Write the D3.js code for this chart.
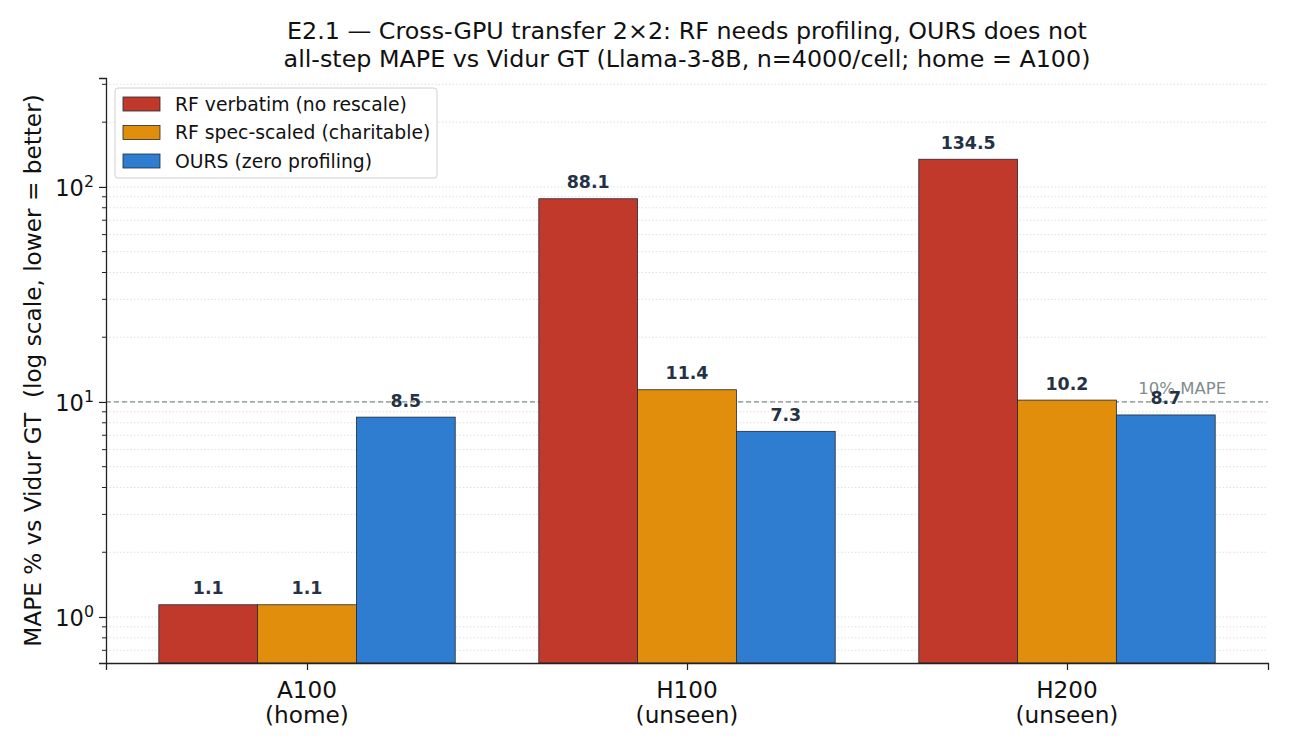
<!DOCTYPE html>
<html>
<head>
<meta charset="utf-8">
<script src="https://cdn.jsdelivr.net/npm/d3@7"></script>
<style>
  body { margin: 0; background: #fff; }
  svg { display: block; font-family: "DejaVu Sans", sans-serif; }
</style>
</head>
<body>
<div id="chart"></div>
<script>
// data
const gpus = ['A100', 'H100', 'H200'];
const gpuNotes = ['(home)', '(unseen)', '(unseen)'];
const seriesNames = ['RF verbatim (no rescale)', 'RF spec-scaled (charitable)', 'OURS (zero profiling)'];
const rfVerbatim = [1.14, 88.1, 134.5];
const rfScaled = [1.14, 11.4, 10.2];
const ours = [8.5, 7.3, 8.7];
const threshold = 10;

const colors = ['#c0392b', '#e08e0b', '#2e7dd1'];
const series = [rfVerbatim, rfScaled, ours];

const W = 1290, H = 750;
const margin = { top: 78, right: 22, bottom: 87, left: 106 };
const width = W - margin.left - margin.right;
const height = H - margin.top - margin.bottom;

const svg = d3.select('#chart').append('svg')
  .attr('width', W).attr('height', H);

const g = svg.append('g').attr('transform', `translate(${margin.left},${margin.top})`);

// scales (matplotlib-style: index positions, bar width 0.26)
const barW = 0.26;
const x = d3.scaleLinear().domain([-0.529, 2.529]).range([0, width]);
const y = d3.scaleLog().domain([0.611, 321]).range([height, 0]);

// grid: minor + major, dotted
const gridVals = [];
for (let e = -1; e <= 2; e++) {
  for (let m = 1; m <= 9; m++) {
    const v = m * Math.pow(10, e);
    if (v >= 0.611 && v <= 321) gridVals.push(v);
  }
}
g.append('g').selectAll('line').data(gridVals).enter().append('line')
  .attr('x1', 0).attr('x2', width)
  .attr('y1', d => y(d)).attr('y2', d => y(d))
  .attr('stroke', '#cfd3d7').attr('stroke-width', 0.7)
  .attr('stroke-dasharray', '1.5,2');

// threshold line
g.append('line')
  .attr('x1', 0).attr('x2', width)
  .attr('y1', y(threshold)).attr('y2', y(threshold))
  .attr('stroke', '#7f8c8d').attr('stroke-width', 1.2)
  .attr('stroke-dasharray', '5,3');

g.append('text')
  .attr('x', x(2.39) + 11).attr('y', y(threshold) - 8)
  .attr('text-anchor', 'end')
  .attr('font-size', 16.5).attr('fill', '#7f8c8d')
  .text('10% MAPE');

// bars
series.forEach((vals, j) => {
  const offset = (j - 1) * barW;
  g.append('g').selectAll('rect').data(vals).enter().append('rect')
    .attr('x', (d, i) => x(i + offset - barW / 2))
    .attr('width', x(barW) - x(0))
    .attr('y', d => y(d))
    .attr('height', d => height - y(d))
    .attr('fill', colors[j])
    .attr('stroke', '#1f2a36').attr('stroke-width', 0.8);

  g.append('g').selectAll('text').data(vals).enter().append('text')
    .attr('x', (d, i) => x(i + offset))
    .attr('y', d => y(d * 1.12))
    .attr('text-anchor', 'middle')
    .attr('font-size', 17.4).attr('font-weight', 'bold')
    .attr('fill', '#253244')
    .text(d => d.toFixed(1));
});

// axes
const yAxis = d3.axisLeft(y)
  .tickValues([1, 10, 100])
  .tickFormat('')
  .tickSizeOuter(0).tickSize(7);
const yG = g.append('g').call(yAxis);
yG.select('.domain').attr('stroke', '#222').attr('stroke-width', 1.3);
yG.selectAll('.tick line').attr('stroke', '#222').attr('stroke-width', 1.2);

// minor ticks
g.append('g').selectAll('line').data(gridVals.filter(v => ![1, 10, 100].includes(v))).enter().append('line')
  .attr('x1', -4).attr('x2', 0)
  .attr('y1', d => y(d)).attr('y2', d => y(d))
  .attr('stroke', '#222').attr('stroke-width', 1);

// major labels as 10^n
[0, 1, 2].forEach(e => {
  const t = g.append('text')
    .attr('x', -12).attr('y', y(Math.pow(10, e)) + 9)
    .attr('text-anchor', 'end')
    .attr('font-size', 22.5).attr('fill', '#111');
  t.append('tspan').text('10');
  t.append('tspan').attr('dy', -9).attr('font-size', 15.8).text(e);
});

const xAxis = d3.axisBottom(x).tickValues([0, 1, 2]).tickFormat('').tickSizeOuter(0).tickSize(7);
const xG = g.append('g').attr('transform', `translate(0,${height})`).call(xAxis);
xG.select('.domain').attr('stroke', '#222').attr('stroke-width', 1.3);
xG.selectAll('.tick line').attr('stroke', '#222').attr('stroke-width', 1.2);

gpus.forEach((name, i) => {
  const t = g.append('text')
    .attr('x', x(i)).attr('y', height + 35)
    .attr('text-anchor', 'middle')
    .attr('font-size', 23.2).attr('fill', '#111');
  t.append('tspan').attr('x', x(i)).text(name);
  t.append('tspan').attr('x', x(i)).attr('dy', 25).text(gpuNotes[i]);
});

// y label
svg.append('text')
  .attr('transform', `translate(41,${margin.top + height / 2}) rotate(-90)`)
  .attr('text-anchor', 'middle')
  .attr('font-size', 23.2).attr('fill', '#111')
  .attr('xml:space', 'preserve')
  .style('white-space', 'pre')
  .text('MAPE % vs Vidur GT  (log scale, lower = better)');

// title
const title = svg.append('text')
  .attr('text-anchor', 'middle')
  .attr('font-size', 23.8).attr('fill', '#111');
title.append('tspan').attr('x', margin.left + width / 2).attr('y', 39)
  .text('E2.1 — Cross-GPU transfer 2×2: RF needs profiling, OURS does not');
title.append('tspan').attr('x', margin.left + width / 2).attr('y', 67)
  .text('all-step MAPE vs Vidur GT (Llama-3-8B, n=4000/cell; home = A100)');

// legend
const lg = g.append('g').attr('transform', 'translate(9,10)');
lg.append('rect')
  .attr('width', 322).attr('height', 90).attr('rx', 3)
  .attr('fill', '#fff').attr('fill-opacity', 0.9)
  .attr('stroke', '#d0d0d0').attr('stroke-width', 1);
seriesNames.forEach((name, j) => {
  const row = lg.append('g').attr('transform', `translate(8,${9 + j * 28.5})`);
  row.append('rect')
    .attr('width', 37).attr('height', 14)
    .attr('fill', colors[j]).attr('stroke', '#1f2a36').attr('stroke-width', 0.8);
  row.append('text')
    .attr('x', 52).attr('y', 13.5)
    .attr('font-size', 18.8).attr('fill', '#111')
    .text(name);
});
</script>
</body>
</html>
